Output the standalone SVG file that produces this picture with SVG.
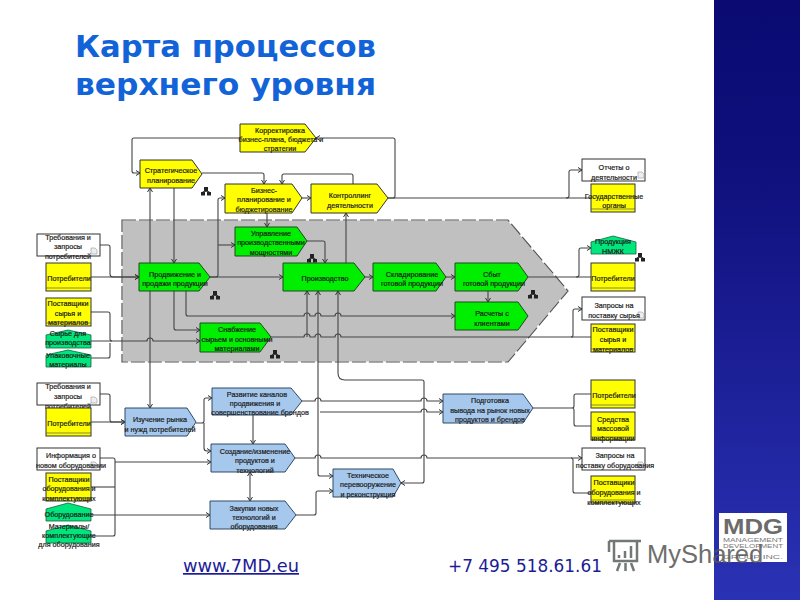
<svg xmlns="http://www.w3.org/2000/svg" width="800" height="600" viewBox="0 0 800 600">
<style>
.y{fill:#ffff00;stroke:#333;stroke-width:1}
.g{fill:#00ee00;stroke:#1c4a1c;stroke-width:1}
.b{fill:#a6c8ec;stroke:#2f4a68;stroke-width:1}
.t{fill:#00e67c;stroke:#17603c;stroke-width:.8}
.w{fill:#fff;stroke:#333;stroke-width:1}
.c{fill:none;stroke:#444;stroke-width:1.1;stroke-linejoin:round}
.a{marker-end:url(#ar)}
.d{fill:none;stroke:#555;stroke-width:.7}
text{font-family:"Liberation Sans",Arial,sans-serif}
.l text{font-size:7.2px;fill:#1a1a1a;text-anchor:middle;stroke:#1a1a1a;stroke-width:.2}
.title{font-family:"DejaVu Sans",sans-serif;font-size:31px;font-weight:bold;fill:#1263d8}
.foot{font-family:"DejaVu Sans",sans-serif;font-size:17px;fill:#1c1c96}
</style>
<defs>
<linearGradient id="panel" x1="0" y1="0" x2="0" y2="1"><stop offset="0" stop-color="#0a0a72"/><stop offset=".3" stop-color="#10107e"/><stop offset="1" stop-color="#2a32b4"/></linearGradient>
<marker id="ar" markerWidth="6" markerHeight="6" refX="5" refY="3" orient="auto" markerUnits="userSpaceOnUse"><path d="M1,.5 L5,3 L1,5.500" fill="none" stroke="#333" stroke-width="1"/></marker>
<marker id="as" markerWidth="6" markerHeight="6" refX="5" refY="3" orient="auto-start-reverse" markerUnits="userSpaceOnUse"><path d="M1,.5 L5,3 L1,5.500" fill="none" stroke="#333" stroke-width="1"/></marker>
<g id="org"><rect x="-2" y="-5" width="4" height="4" fill="#222"/><rect x="-5" y="0" width="4" height="3.500" fill="#222"/><rect x="1" y="0" width="4" height="3.500" fill="#222"/><path d="M0,-1V-.5M-3,0V-.5H3V0" stroke="#222" fill="none" stroke-width=".8"/></g>
<g id="doc"><path d="M-3,-3H1L3,-1V3H-3Z" fill="#eee" stroke="#999" stroke-width=".6"/></g>
</defs>
<rect width="800" height="600" fill="#fff"/>
<rect x="714" y="0" width="86" height="600" fill="url(#panel)"/>
<text class="title" x="75" y="57" textLength="301" lengthAdjust="spacingAndGlyphs">Карта процессов</text>
<text class="title" x="75" y="95" textLength="301" lengthAdjust="spacingAndGlyphs">верхнего уровня</text>
<polygon points="122,220 508,220 568,291 508,362 122,362" fill="#c0c0c0" stroke="#fff" stroke-width="1.200"/>
<polygon points="122,220 508,220 568,291 508,362 122,362" fill="none" stroke="#555" stroke-width="1.200" stroke-dasharray="14 3"/>

<g id="connectors">
<path class="c a" d="M388,198H393Q395,198 395,196V140Q395,138 393,138H316"/>
<path class="c a" d="M240,138H134Q132,138 132,140V171Q132,173 134,173H140"/>
<path class="c a" d="M202,173H262Q264,173 264,175V184"/>
<path class="c a" d="M353,184V176Q353,174 351,174H284Q282,174 282,176V184"/>
<path class="c a" d="M302,198H311"/>
<path class="c a" d="M267,213V227"/>
<path class="c a" d="M174,188V263"/>
<path class="c" d="M150,188V408" marker-start="url(#as)" marker-end="url(#as)"/>
<path class="c a" d="M210,277H216Q218,277 218,275V200Q218,198 220,198H225"/>
<path class="c a" d="M218,245H235"/>
<path class="c a" d="M210,277H283"/>
<path class="c a" d="M307,241H323Q325,241 325,243V263"/>
<path class="c a" d="M100,245H108Q110,245 110,247V274Q110,277 113,277H139"/>
<path class="c a" d="M91,277H139"/>
<path class="c" d="M91,312H108Q110,312 110,314V339Q110,341 112,341"/>
<path class="c a" d="M91,341H147A3,3 0 0 1 153,341H200"/>
<path class="c" d="M91,358H108Q110,358 110,356V343"/>
<path class="c a" d="M174,291V328Q174,330 176,330H200"/>
<path class="c a" d="M186,291V314Q186,316 188,316H304A3,3 0 0 1 310,316H315A3,3 0 0 1 321,316H335A3,3 0 0 1 341,316H455"/>
<path class="c" d="M271,337H304A3,3 0 0 1 310,337H315A3,3 0 0 1 321,337H335A3,3 0 0 1 341,337H591"/>
<path class="c a" d="M307,337V291"/>
<path class="c a" d="M571,337Q573,337 573,335V311Q573,309 575,309H582"/>
<path class="c" d="M318,291V474Q318,476 320,476H333" marker-start="url(#as)" marker-end="url(#as)"/>
<path class="c" d="M338,291V373Q338,380 345,380H422Q424,380 424,382V481Q424,483 422,483H401" marker-start="url(#as)" marker-end="url(#as)"/>
<path class="c a" d="M302,401H315A3,3 0 0 1 321,401H421A3,3 0 0 1 427,401H443"/>
<path class="c a" d="M320,412H421A3,3 0 0 1 427,412H443"/>
<path class="c a" d="M295,458H315A3,3 0 0 1 321,458H421A3,3 0 0 1 427,458H582"/>
<path class="c" d="M571,458Q573,458 573,460V491Q573,493 575,493H591"/>
<path class="c a" d="M296,515H314Q316,515 316,513V493Q316,491 318,491H333"/>
<path class="c a" d="M196,423H202Q204,423 204,421V400Q204,398 206,398H212"/>
<path class="c a" d="M204,423V448Q204,451 207,451H211"/>
<path class="c a" d="M253,415V444"/>
<path class="c" d="M250,472V501" marker-start="url(#as)" marker-end="url(#as)"/>
<path class="c a" d="M100,394H108Q110,394 110,396V420Q110,422 112,422H125"/>
<path class="c a" d="M91,422H125"/>
<path class="c" d="M100,458H113Q115,458 115,460V534Q115,536 113,536H91"/>
<path class="c a" d="M115,462H211"/>
<path class="c" d="M91,487H115"/>
<path class="c a" d="M91,515H210"/>
<path class="c" d="M533,408H572Q574,408 574,406V396Q574,394 576,394H591M572,408Q574,408 574,410V424Q574,426 576,426H591"/>
<path class="c a" d="M488,291V302"/>
<path class="c" d="M528,277H591"/>
<path class="c a" d="M576,277Q579,277 579,275V250Q579,248 581,248H591"/>
<path class="c a" d="M346,263V213"/>
<path class="c a" d="M365,277H373"/>
<path class="c a" d="M446,277H455"/>
<path class="c" d="M388,198H591"/>
<path class="c a" d="M566,198Q569,198 569,196V172Q569,170 571,170H582"/>
</g>

<g id="n-korr" class="l"><polygon class="y" points="240,124 305,124 316,138 305,152 240,152"/><text x="280" y="133">Корректировка</text><text x="281" y="142">бизнес-плана, бюджета и</text><text x="280" y="151">стратегии</text></g>
<g id="n-strat" class="l"><polygon class="y" points="140,160 192,160 202,174 192,188 140,188"/><text x="171" y="173">Стратегическое</text><text x="171" y="183">планирование</text></g>
<g id="n-bplan" class="l"><polygon class="y" points="225,184 292,184 302,198 292,213 225,213"/><text x="264" y="193">Бизнес-</text><text x="264" y="202">планирование и</text><text x="264" y="212">бюджетирование</text></g>
<g id="n-control" class="l"><polygon class="y" points="311,184 377,184 388,198 377,213 311,213"/><text x="350" y="198">Контроллинг</text><text x="350" y="208">деятельности</text></g>
<g id="n-uprav" class="l"><polygon class="g" points="235,227 297,227 307,241 297,256 235,256"/><text x="271" y="236">Управление</text><text x="271" y="245">производственными</text><text x="271" y="255">мощностями</text></g>
<g id="n-prod" class="l"><polygon class="g" points="139,263 199,263 210,277 199,291 139,291"/><text x="175" y="277">Продвижение и</text><text x="175" y="286">продажи продукции</text></g>
<g id="n-snab" class="l"><polygon class="g" points="200,323 260,323 271,337 260,352 200,352"/><text x="237" y="332">Снабжение</text><text x="237" y="342">сырьем и основными</text><text x="237" y="351">материалами</text></g>
<g id="n-proizv" class="l"><polygon class="g" points="283,263 354,263 365,277 354,291 283,291"/><text x="325" y="281">Производство</text></g>
<g id="n-sklad" class="l"><polygon class="g" points="373,263 436,263 446,277 436,291 373,291"/><text x="412" y="277">Складирование</text><text x="412" y="286">готовой продукции</text></g>
<g id="n-sbyt" class="l"><polygon class="g" points="455,263 518,263 528,277 518,291 455,291"/><text x="492" y="277">Сбыт</text><text x="494" y="286">готовой продукции</text></g>
<g id="n-rasch" class="l"><polygon class="g" points="455,302 518,302 528,316 518,330 455,330"/><text x="492" y="316">Расчеты с</text><text x="492" y="326">клиентами</text></g>

<g id="n-treb1" class="l"><rect class="w" x="37" y="234" width="63" height="22"/><use href="#doc" x="94" y="251"/><text x="68" y="240">Требования и</text><text x="68" y="249">запросы</text><text x="68" y="259">потребителей</text></g>
<g id="n-potr1" class="l"><rect class="y" x="46" y="263" width="45" height="28"/><path class="d" d="M46,288H91"/><text x="69" y="281">Потребители</text></g>
<g id="n-post1" class="l"><rect class="y" x="46" y="298" width="45" height="28"/><path class="d" d="M46,323H91"/><text x="68" y="306">Поставщики</text><text x="68" y="316">сырья и</text><text x="68" y="325">материалов</text></g>
<g id="n-syr" class="l"><polygon class="t" points="46,335 68,330 91,335 91,348 46,348"/><text x="68" y="336">Сырье для</text><text x="68" y="345">производства</text></g>
<g id="n-upak" class="l"><polygon class="t" points="46,355 68,350 91,355 91,367 46,367"/><text x="68" y="358">Упаковочные</text><text x="68" y="367">материалы</text></g>

<g id="n-otch" class="l"><rect class="w" x="582" y="159" width="63" height="22"/><use href="#doc" x="641" y="175"/><text x="614" y="170">Отчеты о</text><text x="614" y="180">деятельности</text></g>
<g id="n-gos" class="l"><rect class="y" x="591" y="184" width="44" height="28"/><path class="d" d="M591,209H635"/><text x="614" y="199">Государственные</text><text x="614" y="208">органы</text></g>
<g id="n-nmzhk" class="l"><polygon class="t" points="591,242 613,236 636,242 636,254 591,254"/><text x="613" y="244">Продукция</text><text x="613" y="254">НМЖК</text></g>
<g id="n-potr2" class="l"><rect class="y" x="591" y="263" width="44" height="28"/><path class="d" d="M591,288H635"/><text x="613" y="281">Потребители</text></g>
<g id="n-zap1" class="l"><rect class="w" x="582" y="297" width="63" height="23"/><use href="#doc" x="641" y="315"/><text x="614" y="308">Запросы на</text><text x="614" y="318">поставку сырья</text></g>
<g id="n-post2" class="l"><rect class="y" x="591" y="324" width="44" height="28"/><path class="d" d="M591,349H635"/><text x="613" y="332">Поставщики</text><text x="613" y="342">сырья и</text><text x="613" y="352">материалов</text></g>

<g id="n-treb2" class="l"><rect class="w" x="37" y="383" width="63" height="22"/><use href="#doc" x="94" y="400"/><text x="68" y="389">Требования и</text><text x="68" y="399">запросы</text><text x="68" y="409">потребителей</text></g>
<g id="n-potr3" class="l"><rect class="y" x="46" y="408" width="45" height="28"/><path class="d" d="M46,433H91"/><text x="69" y="426">Потребители</text></g>
<g id="n-izuch" class="l"><polygon class="b" points="125,408 187,408 196,422 187,436 125,436"/><text x="160" y="422">Изучение рынка</text><text x="160" y="432">и нужд потребителей</text></g>
<g id="n-razv" class="l"><polygon class="b" points="212,388 291,388 302,401 291,415 212,415"/><text x="257" y="397">Развитие каналов</text><text x="255" y="406">продвижения и</text><text x="260" y="415">совершенствование брендов</text></g>
<g id="n-sozd" class="l"><polygon class="b" points="211,444 285,444 295,458 285,472 211,472"/><text x="255" y="454">Создание/изменение</text><text x="255" y="463">продуктов и</text><text x="255" y="473">технологий</text></g>
<g id="n-zak" class="l"><polygon class="b" points="210,501 285,501 296,515 285,529 210,529"/><text x="254" y="511">Закупки новых</text><text x="254" y="520">технологий и</text><text x="254" y="529">оборудования</text></g>
<g id="n-info" class="l"><rect class="w" x="37" y="448" width="63" height="22"/><use href="#doc" x="94" y="465"/><text x="71" y="458">Информация о</text><text x="71" y="468">новом оборудовании</text></g>
<g id="n-post3" class="l"><rect class="y" x="46" y="473" width="45" height="28"/><path class="d" d="M46,498H91"/><text x="69" y="482">Поставщики</text><text x="69" y="491">оборудования и</text><text x="69" y="501">комплектующих</text></g>
<g id="n-obor" class="l"><polygon class="t" points="46,509 68,503 91,509 91,521 46,521"/><text x="69" y="517">Оборудование</text></g>
<g id="n-mat" class="l"><polygon class="t" points="46,531 68,525 91,531 91,543 46,543"/><text x="69" y="529">Материалы/</text><text x="69" y="538">комплектующие</text><text x="69" y="547">для оборудования</text></g>
<g id="n-tech" class="l"><polygon class="b" points="333,469 393,469 401,483 393,497 333,497"/><text x="368" y="478">Техническое</text><text x="368" y="487">перевооружение</text><text x="368" y="497">и реконструкция</text></g>
<g id="n-podg" class="l"><polygon class="b" points="443,394 523,394 533,408 523,423 443,423"/><text x="490" y="403">Подготовка</text><text x="490" y="413">вывода на рынок новых</text><text x="490" y="422">продуктов и брендов</text></g>
<g id="n-potr4" class="l"><rect class="y" x="591" y="380" width="44" height="28"/><path class="d" d="M591,405H635"/><text x="614" y="398">Потребители</text></g>
<g id="n-smi" class="l"><rect class="y" x="591" y="412" width="44" height="28"/><path class="d" d="M591,437H635"/><text x="613" y="422">Средства</text><text x="613" y="431">массовой</text><text x="613" y="441">информации</text></g>
<g id="n-zap2" class="l"><rect class="w" x="582" y="448" width="63" height="22"/><use href="#doc" x="641" y="465"/><text x="615" y="458">Запросы на</text><text x="615" y="468">поставку оборудования</text></g>
<g id="n-post4" class="l"><rect class="y" x="591" y="476" width="44" height="27"/><path class="d" d="M591,500H635"/><text x="614" y="485">Поставщики</text><text x="614" y="495">оборудования и</text><text x="614" y="505">комплектующих</text></g>

<use href="#org" x="206" y="192"/><use href="#org" x="215" y="296"/><use href="#org" x="275" y="355"/><use href="#org" x="312" y="259"/><use href="#org" x="533" y="295"/><use href="#org" x="640" y="258"/>

<text class="foot" x="183" y="572" text-decoration="underline" textLength="116" lengthAdjust="spacingAndGlyphs">www.7MD.eu</text>
<text class="foot" x="448" y="572" textLength="154" lengthAdjust="spacingAndGlyphs">+7 495 518.61.61</text>

<g id="logo">
<rect x="719" y="513" width="68" height="49" fill="#fff"/>
<text x="723" y="534" font-size="22" font-weight="bold" fill="#6b6b6b" textLength="60" lengthAdjust="spacingAndGlyphs">MDG</text>
<text x="723" y="541.500" font-size="6" fill="#777" textLength="60" lengthAdjust="spacingAndGlyphs">MANAGEMENT</text>
<text x="723" y="548" font-size="6" fill="#777" textLength="60" lengthAdjust="spacingAndGlyphs">DEVELOPMENT</text>
<text x="723" y="559" font-size="6" fill="#777" textLength="60" lengthAdjust="spacingAndGlyphs">GROUP INC.</text>
</g>
<g id="watermark" opacity=".85">
<path d="M609,541H641M614,541V561H637V541M609,541V552" fill="none" stroke="#5a6060" stroke-width="2.500"/>
<path d="M619,558V555M625,558V551M631,558V546M620,563L617,571M631,563L634,571M625.500,563V571" stroke="#5a6060" stroke-width="2.500" fill="none"/>
<text x="647" y="563" font-size="25.500" fill="#555">MyShared</text>
</g>
</svg>
